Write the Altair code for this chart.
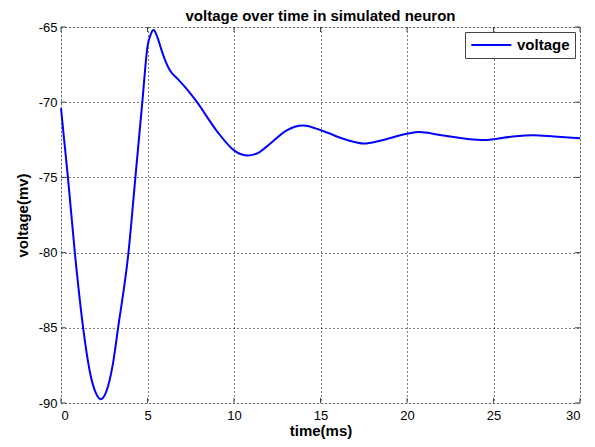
import altair as alt
import pandas as pd

time_ms = [0.0, 0.2, 0.4, 0.8, 1.28, 1.7, 2.0, 2.3, 2.6, 3.0, 3.3, 3.9, 4.3, 4.7,
           5.0, 5.2, 5.35, 5.55, 5.8, 6.05, 6.3, 6.7, 7.1, 7.8, 9.0, 10.0, 10.8,
           11.5, 12.1, 13.0, 14.0, 15.1, 16.5, 17.5, 18.5, 20.0, 20.7, 22.0, 23.5,
           24.5, 26.0, 27.3, 28.5, 30.0]
voltage_mv = [-70.4, -72.7, -75.0, -80.0, -85.0, -88.1, -89.3, -89.75, -89.3, -87.4,
              -85.0, -80.0, -75.0, -70.0, -66.3, -65.45, -65.2, -65.6, -66.5, -67.3,
              -67.9, -68.4, -68.9, -69.9, -71.9, -73.2, -73.55, -73.3, -72.75, -71.9,
              -71.55, -71.9, -72.5, -72.75, -72.55, -72.1, -71.98, -72.2, -72.45,
              -72.52, -72.3, -72.2, -72.28, -72.4]
series_name = "voltage"
x_ticks = [0, 5, 10, 15, 20, 25, 30]
y_ticks = [-90, -85, -80, -75, -70, -65]

df = pd.DataFrame({"time": time_ms, "voltage": voltage_mv,
                   "series": [series_name] * len(time_ms)})
xt = pd.DataFrame({"time": x_ticks})
yt = pd.DataFrame({"voltage": y_ticks})

W, H = 519, 376
FONT = "Liberation Sans"
FRAME = "#444444"
TL = 5
LABEL_EXPR = "'' + datum.value"

xscale = alt.Scale(domain=[0, 30], nice=False, zero=False)
yscale = alt.Scale(domain=[-90, -65], nice=False, zero=False)

xaxis = alt.Axis(values=x_ticks, title="time(ms)", grid=True, gridDash=[1, 3],
                 gridColor="#000000", gridOpacity=1, gridWidth=1, ticks=False,
                 domain=False, labelPadding=6, titlePadding=1, labelFont=FONT,
                 labelFontSize=13, labelColor="#000000", titleFont=FONT,
                 titleFontSize=15, titleFontWeight="bold", titleColor="#000000",
                 labelExpr=LABEL_EXPR)
yaxis = alt.Axis(values=y_ticks, title="voltage(mv)", grid=True, gridDash=[1, 3],
                 gridColor="#000000", gridOpacity=1, gridWidth=1, ticks=False,
                 domain=False, labelPadding=4, titlePadding=8, labelFont=FONT,
                 labelFontSize=13, labelColor="#000000", titleFont=FONT,
                 titleFontSize=15, titleFontWeight="bold", titleColor="#000000",
                 labelExpr=LABEL_EXPR)

line = alt.Chart(df).mark_line(strokeWidth=2, interpolate="monotone").encode(
    x=alt.X("time:Q", scale=xscale, axis=xaxis),
    y=alt.Y("voltage:Q", scale=yscale, axis=yaxis),
    color=alt.Color("series:N", scale=alt.Scale(range=["#0000ff"]),
                    legend=alt.Legend(title=None, orient="top-right", offset=5,
                                      fillColor="#ffffff", strokeColor=FRAME,
                                      padding=5, symbolType="M-1,0L5,0",
                                      symbolSize=178, symbolStrokeWidth=2,
                                      labelFont=FONT, labelFontSize=15,
                                      labelFontWeight="bold", labelColor="#000000",
                                      labelOffset=31, cornerRadius=0)),
)

xt_bottom = alt.Chart(xt).mark_rule(color=FRAME, strokeWidth=1).encode(
    x=alt.X("time:Q", scale=xscale, title="time(ms)"),
    y=alt.value(H), y2=alt.value(H - TL))
xt_top = alt.Chart(xt).mark_rule(color=FRAME, strokeWidth=1).encode(
    x=alt.X("time:Q", scale=xscale, title="time(ms)"),
    y=alt.value(0), y2=alt.value(TL))
yt_left = alt.Chart(yt).mark_rule(color=FRAME, strokeWidth=1).encode(
    y=alt.Y("voltage:Q", scale=yscale, title="voltage(mv)"),
    x=alt.value(0), x2=alt.value(TL))
yt_right = alt.Chart(yt).mark_rule(color=FRAME, strokeWidth=1).encode(
    y=alt.Y("voltage:Q", scale=yscale, title="voltage(mv)"),
    x=alt.value(W), x2=alt.value(W - TL))

chart = alt.layer(line, xt_bottom, xt_top, yt_left, yt_right).properties(
    width=W, height=H,
    title=alt.TitleParams("voltage over time in simulated neuron", font=FONT,
                          fontSize=15, fontWeight="bold", color="#000000",
                          anchor="middle", offset=-3),
    autosize=alt.AutoSizeParams(type="none"),
    padding={"left": 53, "top": 19, "right": 7, "bottom": 36},
).configure_view(stroke=FRAME, strokeWidth=1).configure(background="#ffffff")

chart.save("out.html", embed_options={"renderer": "svg", "actions": False})
